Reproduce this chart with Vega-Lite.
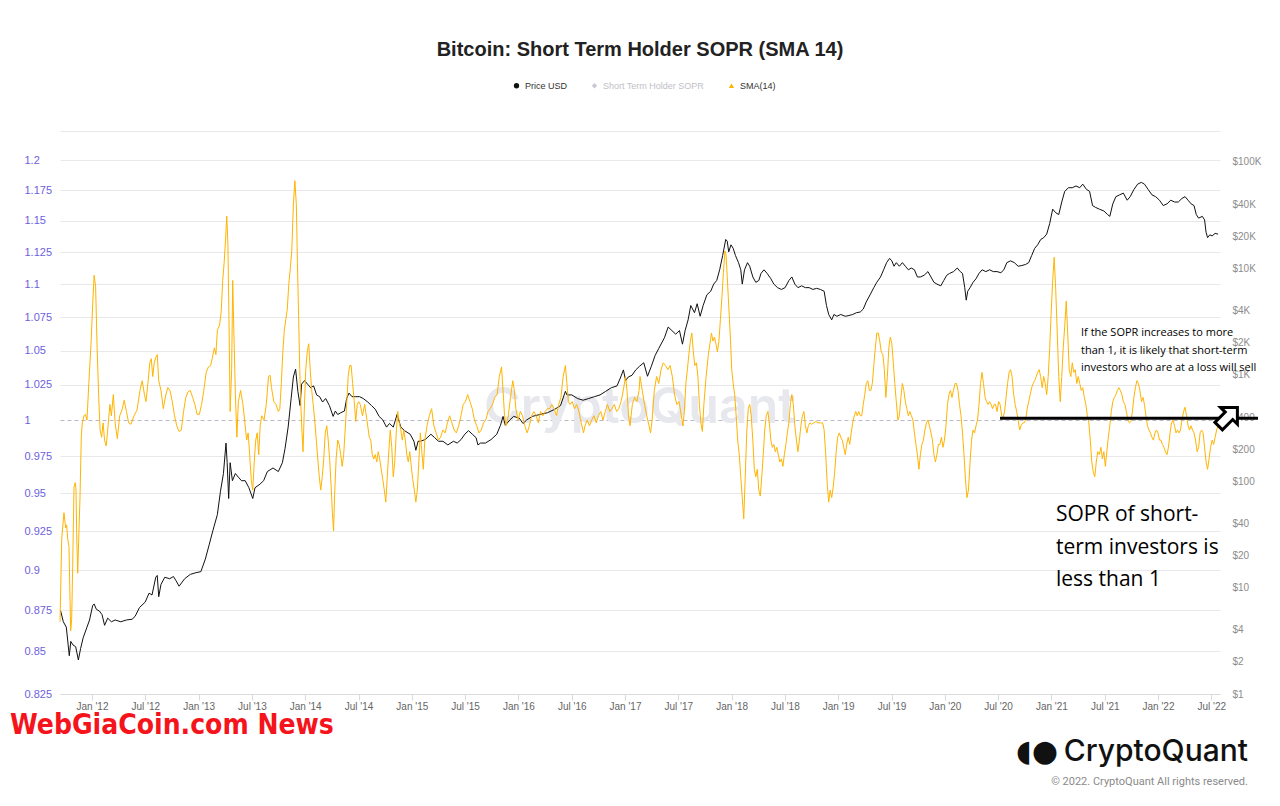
{
"$schema": "https://vega.github.io/schema/vega-lite/v6.json",
"width": 1160, "height": 563,
"autosize": "none",
"padding": {"left": 60, "top": 131, "right": 60, "bottom": 112},
"background": "white",
"config": {"view": {"stroke": null}, "font": "Liberation Sans", "axis": {"labelFont": "Liberation Sans"}},
"title": {"text": "Bitcoin: Short Term Holder SOPR (SMA 14)", "anchor": "middle", "frame": "group", "fontSize": 20, "font": "Liberation Sans", "fontWeight": "bold", "color": "#222222", "offset": 21},
"datasets": {
"sma": [
{"year":2011.700,"sopr":0.868},{"year":2011.716,"sopr":0.920},{"year":2011.737,"sopr":0.937},{"year":2011.753,"sopr":0.927},{"year":2011.762,"sopr":0.929},{"year":2011.772,"sopr":0.920},{"year":2011.784,"sopr":0.915},{"year":2011.794,"sopr":0.881},{"year":2011.800,"sopr":0.8625},{"year":2011.809,"sopr":0.869},{"year":2011.819,"sopr":0.903},{"year":2011.831,"sopr":0.954},{"year":2011.843,"sopr":0.957},{"year":2011.850,"sopr":0.952},{"year":2011.856,"sopr":0.924},{"year":2011.866,"sopr":0.898},{"year":2011.875,"sopr":0.919},{"year":2011.887,"sopr":0.946},{"year":2011.900,"sopr":0.989},{"year":2011.909,"sopr":0.998},{"year":2011.925,"sopr":1.003},{"year":2011.937,"sopr":1.004},{"year":2011.953,"sopr":1.000},{"year":2011.970,"sopr":1.026},{"year":2011.992,"sopr":1.057},{"year":2012.006,"sopr":1.084},{"year":2012.020,"sopr":1.107},{"year":2012.034,"sopr":1.098},{"year":2012.048,"sopr":1.052},{"year":2012.062,"sopr":1.018},{"year":2012.076,"sopr":0.993},{"year":2012.090,"sopr":0.988},{"year":2012.104,"sopr":0.998},{"year":2012.118,"sopr":0.986},{"year":2012.133,"sopr":0.982},{"year":2012.147,"sopr":0.993},{"year":2012.168,"sopr":1.011},{"year":2012.182,"sopr":1.003},{"year":2012.200,"sopr":1.018},{"year":2012.217,"sopr":0.998},{"year":2012.238,"sopr":0.987},{"year":2012.260,"sopr":1.003},{"year":2012.281,"sopr":1.007},{"year":2012.302,"sopr":1.014},{"year":2012.323,"sopr":1.006},{"year":2012.344,"sopr":0.998},{"year":2012.365,"sopr":0.997},{"year":2012.394,"sopr":1.003},{"year":2012.422,"sopr":1.007},{"year":2012.450,"sopr":1.021},{"year":2012.471,"sopr":1.028},{"year":2012.492,"sopr":1.018},{"year":2012.506,"sopr":1.013},{"year":2012.527,"sopr":1.028},{"year":2012.542,"sopr":1.041},{"year":2012.556,"sopr":1.044},{"year":2012.570,"sopr":1.031},{"year":2012.584,"sopr":1.041},{"year":2012.598,"sopr":1.045},{"year":2012.612,"sopr":1.047},{"year":2012.626,"sopr":1.028},{"year":2012.647,"sopr":1.021},{"year":2012.669,"sopr":1.008},{"year":2012.690,"sopr":1.017},{"year":2012.711,"sopr":1.023},{"year":2012.732,"sopr":1.021},{"year":2012.753,"sopr":1.013},{"year":2012.774,"sopr":1.003},{"year":2012.795,"sopr":0.996},{"year":2012.817,"sopr":0.992},{"year":2012.838,"sopr":0.993},{"year":2012.859,"sopr":1.006},{"year":2012.880,"sopr":1.016},{"year":2012.901,"sopr":1.020},{"year":2012.922,"sopr":1.021},{"year":2012.944,"sopr":1.016},{"year":2012.965,"sopr":1.011},{"year":2012.986,"sopr":1.004},{"year":2013.007,"sopr":1.004},{"year":2013.028,"sopr":1.011},{"year":2013.049,"sopr":1.021},{"year":2013.071,"sopr":1.034},{"year":2013.092,"sopr":1.038},{"year":2013.113,"sopr":1.039},{"year":2013.127,"sopr":1.044},{"year":2013.148,"sopr":1.052},{"year":2013.162,"sopr":1.047},{"year":2013.176,"sopr":1.065},{"year":2013.197,"sopr":1.069},{"year":2013.212,"sopr":1.079},{"year":2013.226,"sopr":1.103},{"year":2013.240,"sopr":1.117},{"year":2013.254,"sopr":1.137},{"year":2013.264,"sopr":1.154},{"year":2013.275,"sopr":1.131},{"year":2013.285,"sopr":1.073},{"year":2013.296,"sopr":1.006},{"year":2013.310,"sopr":1.036},{"year":2013.320,"sopr":1.103},{"year":2013.331,"sopr":1.063},{"year":2013.345,"sopr":1.018},{"year":2013.359,"sopr":0.988},{"year":2013.373,"sopr":1.013},{"year":2013.394,"sopr":1.021},{"year":2013.416,"sopr":1.011},{"year":2013.437,"sopr":0.996},{"year":2013.451,"sopr":0.986},{"year":2013.465,"sopr":0.991},{"year":2013.479,"sopr":0.976},{"year":2013.494,"sopr":0.959},{"year":2013.508,"sopr":0.952},{"year":2013.522,"sopr":0.971},{"year":2013.536,"sopr":0.986},{"year":2013.550,"sopr":0.991},{"year":2013.564,"sopr":0.976},{"year":2013.578,"sopr":0.996},{"year":2013.592,"sopr":1.003},{"year":2013.614,"sopr":1.000},{"year":2013.635,"sopr":1.011},{"year":2013.656,"sopr":1.031},{"year":2013.670,"sopr":1.032},{"year":2013.684,"sopr":1.023},{"year":2013.705,"sopr":1.013},{"year":2013.726,"sopr":1.011},{"year":2013.748,"sopr":1.006},{"year":2013.762,"sopr":1.008},{"year":2013.776,"sopr":1.026},{"year":2013.790,"sopr":1.049},{"year":2013.804,"sopr":1.065},{"year":2013.818,"sopr":1.073},{"year":2013.832,"sopr":1.081},{"year":2013.846,"sopr":1.100},{"year":2013.860,"sopr":1.112},{"year":2013.874,"sopr":1.126},{"year":2013.889,"sopr":1.163},{"year":2013.903,"sopr":1.183},{"year":2013.917,"sopr":1.163},{"year":2013.927,"sopr":1.117},{"year":2013.938,"sopr":1.076},{"year":2013.949,"sopr":1.036},{"year":2013.959,"sopr":1.011},{"year":2013.970,"sopr":0.991},{"year":2013.980,"sopr":0.978},{"year":2013.991,"sopr":1.006},{"year":2014.005,"sopr":1.036},{"year":2014.019,"sopr":1.049},{"year":2014.033,"sopr":1.055},{"year":2014.047,"sopr":1.036},{"year":2014.061,"sopr":1.021},{"year":2014.075,"sopr":1.011},{"year":2014.089,"sopr":1.000},{"year":2014.104,"sopr":0.986},{"year":2014.118,"sopr":0.973},{"year":2014.132,"sopr":0.961},{"year":2014.146,"sopr":0.952},{"year":2014.160,"sopr":0.961},{"year":2014.174,"sopr":0.973},{"year":2014.188,"sopr":0.991},{"year":2014.202,"sopr":0.996},{"year":2014.216,"sopr":0.986},{"year":2014.231,"sopr":0.971},{"year":2014.245,"sopr":0.952},{"year":2014.255,"sopr":0.937},{"year":2014.266,"sopr":0.925},{"year":2014.276,"sopr":0.949},{"year":2014.290,"sopr":0.973},{"year":2014.305,"sopr":0.986},{"year":2014.319,"sopr":0.983},{"year":2014.333,"sopr":0.976},{"year":2014.347,"sopr":0.968},{"year":2014.361,"sopr":0.976},{"year":2014.375,"sopr":0.993},{"year":2014.389,"sopr":1.011},{"year":2014.403,"sopr":1.031},{"year":2014.417,"sopr":1.039},{"year":2014.431,"sopr":1.039},{"year":2014.445,"sopr":1.026},{"year":2014.460,"sopr":1.013},{"year":2014.474,"sopr":0.999},{"year":2014.488,"sopr":1.011},{"year":2014.502,"sopr":1.013},{"year":2014.516,"sopr":1.011},{"year":2014.537,"sopr":1.003},{"year":2014.558,"sopr":1.011},{"year":2014.579,"sopr":1.000},{"year":2014.601,"sopr":0.988},{"year":2014.615,"sopr":0.986},{"year":2014.629,"sopr":0.976},{"year":2014.643,"sopr":0.973},{"year":2014.657,"sopr":0.976},{"year":2014.671,"sopr":0.971},{"year":2014.685,"sopr":0.978},{"year":2014.699,"sopr":0.973},{"year":2014.713,"sopr":0.966},{"year":2014.728,"sopr":0.959},{"year":2014.742,"sopr":0.952},{"year":2014.756,"sopr":0.944},{"year":2014.770,"sopr":0.961},{"year":2014.784,"sopr":0.978},{"year":2014.798,"sopr":0.993},{"year":2014.812,"sopr":0.981},{"year":2014.826,"sopr":0.961},{"year":2014.840,"sopr":0.971},{"year":2014.854,"sopr":0.991},{"year":2014.868,"sopr":1.006},{"year":2014.883,"sopr":0.998},{"year":2014.897,"sopr":0.993},{"year":2014.911,"sopr":0.986},{"year":2014.925,"sopr":0.993},{"year":2014.939,"sopr":0.986},{"year":2014.953,"sopr":0.976},{"year":2014.967,"sopr":0.971},{"year":2014.981,"sopr":0.978},{"year":2014.995,"sopr":0.968},{"year":2015.009,"sopr":0.959},{"year":2015.024,"sopr":0.952},{"year":2015.038,"sopr":0.944},{"year":2015.052,"sopr":0.952},{"year":2015.066,"sopr":0.971},{"year":2015.080,"sopr":0.991},{"year":2015.094,"sopr":0.978},{"year":2015.108,"sopr":0.966},{"year":2015.122,"sopr":0.986},{"year":2015.143,"sopr":0.996},{"year":2015.164,"sopr":1.003},{"year":2015.186,"sopr":1.008},{"year":2015.207,"sopr":0.996},{"year":2015.228,"sopr":0.991},{"year":2015.249,"sopr":0.986},{"year":2015.270,"sopr":0.988},{"year":2015.291,"sopr":0.993},{"year":2015.313,"sopr":0.991},{"year":2015.334,"sopr":0.998},{"year":2015.355,"sopr":1.003},{"year":2015.376,"sopr":0.998},{"year":2015.397,"sopr":0.993},{"year":2015.418,"sopr":0.991},{"year":2015.440,"sopr":0.996},{"year":2015.461,"sopr":1.003},{"year":2015.482,"sopr":1.011},{"year":2015.503,"sopr":1.013},{"year":2015.524,"sopr":1.018},{"year":2015.546,"sopr":1.013},{"year":2015.567,"sopr":1.008},{"year":2015.588,"sopr":1.000},{"year":2015.609,"sopr":0.996},{"year":2015.630,"sopr":0.991},{"year":2015.651,"sopr":0.993},{"year":2015.673,"sopr":0.998},{"year":2015.694,"sopr":1.000},{"year":2015.715,"sopr":1.006},{"year":2015.736,"sopr":1.008},{"year":2015.757,"sopr":1.011},{"year":2015.778,"sopr":1.016},{"year":2015.800,"sopr":1.018},{"year":2015.821,"sopr":1.031},{"year":2015.842,"sopr":1.038},{"year":2015.856,"sopr":1.021},{"year":2015.870,"sopr":1.003},{"year":2015.884,"sopr":0.996},{"year":2015.905,"sopr":1.003},{"year":2015.926,"sopr":1.016},{"year":2015.947,"sopr":1.028},{"year":2015.962,"sopr":1.021},{"year":2015.976,"sopr":1.008},{"year":2015.997,"sopr":1.000},{"year":2016.018,"sopr":1.006},{"year":2016.039,"sopr":1.003},{"year":2016.060,"sopr":0.996},{"year":2016.082,"sopr":0.991},{"year":2016.103,"sopr":0.996},{"year":2016.124,"sopr":1.003},{"year":2016.145,"sopr":1.006},{"year":2016.166,"sopr":1.003},{"year":2016.187,"sopr":0.998},{"year":2016.208,"sopr":1.006},{"year":2016.230,"sopr":1.003},{"year":2016.251,"sopr":1.006},{"year":2016.272,"sopr":1.008},{"year":2016.293,"sopr":1.008},{"year":2016.314,"sopr":1.011},{"year":2016.335,"sopr":1.008},{"year":2016.357,"sopr":1.003},{"year":2016.378,"sopr":1.011},{"year":2016.399,"sopr":1.016},{"year":2016.420,"sopr":1.031},{"year":2016.441,"sopr":1.039},{"year":2016.455,"sopr":1.026},{"year":2016.469,"sopr":1.013},{"year":2016.484,"sopr":1.011},{"year":2016.505,"sopr":1.013},{"year":2016.526,"sopr":1.008},{"year":2016.547,"sopr":1.011},{"year":2016.568,"sopr":1.006},{"year":2016.589,"sopr":0.998},{"year":2016.611,"sopr":0.991},{"year":2016.625,"sopr":0.996},{"year":2016.646,"sopr":1.000},{"year":2016.667,"sopr":0.996},{"year":2016.688,"sopr":1.000},{"year":2016.709,"sopr":1.003},{"year":2016.730,"sopr":0.998},{"year":2016.751,"sopr":1.003},{"year":2016.773,"sopr":1.006},{"year":2016.794,"sopr":1.000},{"year":2016.815,"sopr":1.006},{"year":2016.836,"sopr":1.011},{"year":2016.857,"sopr":1.006},{"year":2016.878,"sopr":1.008},{"year":2016.900,"sopr":1.011},{"year":2016.921,"sopr":1.006},{"year":2016.942,"sopr":1.008},{"year":2016.963,"sopr":1.013},{"year":2016.984,"sopr":1.021},{"year":2017.005,"sopr":1.031},{"year":2017.019,"sopr":1.021},{"year":2017.033,"sopr":1.003},{"year":2017.047,"sopr":0.996},{"year":2017.069,"sopr":1.011},{"year":2017.090,"sopr":1.016},{"year":2017.111,"sopr":1.013},{"year":2017.132,"sopr":1.021},
{"year":2017.141,"sopr":1.031},{"year":2017.162,"sopr":1.021},{"year":2017.183,"sopr":1.011},{"year":2017.204,"sopr":1.003},{"year":2017.225,"sopr":0.996},{"year":2017.240,"sopr":0.991},{"year":2017.254,"sopr":1.000},{"year":2017.275,"sopr":1.021},{"year":2017.296,"sopr":1.031},{"year":2017.317,"sopr":1.026},{"year":2017.338,"sopr":1.036},{"year":2017.359,"sopr":1.041},{"year":2017.380,"sopr":1.039},{"year":2017.402,"sopr":1.036},{"year":2017.423,"sopr":1.039},{"year":2017.444,"sopr":1.031},{"year":2017.465,"sopr":1.018},{"year":2017.486,"sopr":1.011},{"year":2017.507,"sopr":1.013},{"year":2017.529,"sopr":1.003},{"year":2017.543,"sopr":0.996},{"year":2017.557,"sopr":1.006},{"year":2017.571,"sopr":1.026},{"year":2017.585,"sopr":1.036},{"year":2017.599,"sopr":1.047},{"year":2017.613,"sopr":1.057},{"year":2017.627,"sopr":1.063},{"year":2017.641,"sopr":1.049},{"year":2017.655,"sopr":1.039},{"year":2017.670,"sopr":1.041},{"year":2017.684,"sopr":1.031},{"year":2017.698,"sopr":1.011},{"year":2017.712,"sopr":0.998},{"year":2017.726,"sopr":0.992},{"year":2017.740,"sopr":1.011},{"year":2017.761,"sopr":1.031},{"year":2017.782,"sopr":1.047},{"year":2017.797,"sopr":1.055},{"year":2017.811,"sopr":1.063},{"year":2017.825,"sopr":1.057},{"year":2017.839,"sopr":1.060},{"year":2017.853,"sopr":1.055},{"year":2017.867,"sopr":1.049},{"year":2017.881,"sopr":1.057},{"year":2017.895,"sopr":1.073},{"year":2017.909,"sopr":1.090},{"year":2017.923,"sopr":1.109},{"year":2017.938,"sopr":1.126},{"year":2017.948,"sopr":1.123},{"year":2017.959,"sopr":1.106},{"year":2017.969,"sopr":1.090},{"year":2017.980,"sopr":1.073},{"year":2017.990,"sopr":1.057},{"year":2018.001,"sopr":1.036},{"year":2018.015,"sopr":1.026},{"year":2018.029,"sopr":1.018},{"year":2018.043,"sopr":1.003},{"year":2018.057,"sopr":0.986},{"year":2018.072,"sopr":0.976},{"year":2018.086,"sopr":0.961},{"year":2018.100,"sopr":0.947},{"year":2018.114,"sopr":0.933},{"year":2018.128,"sopr":0.961},{"year":2018.142,"sopr":0.991},{"year":2018.156,"sopr":1.008},{"year":2018.170,"sopr":1.011},{"year":2018.184,"sopr":1.003},{"year":2018.199,"sopr":0.986},{"year":2018.213,"sopr":0.966},{"year":2018.227,"sopr":0.961},{"year":2018.241,"sopr":0.966},{"year":2018.255,"sopr":0.952},{"year":2018.269,"sopr":0.948},{"year":2018.283,"sopr":0.961},{"year":2018.297,"sopr":0.976},{"year":2018.311,"sopr":0.993},{"year":2018.325,"sopr":1.003},{"year":2018.340,"sopr":1.006},{"year":2018.354,"sopr":0.998},{"year":2018.368,"sopr":0.986},{"year":2018.382,"sopr":0.981},{"year":2018.396,"sopr":0.983},{"year":2018.410,"sopr":0.978},{"year":2018.424,"sopr":0.981},{"year":2018.438,"sopr":0.976},{"year":2018.452,"sopr":0.971},{"year":2018.467,"sopr":0.973},{"year":2018.481,"sopr":0.968},{"year":2018.495,"sopr":0.976},{"year":2018.509,"sopr":0.983},{"year":2018.523,"sopr":0.991},{"year":2018.537,"sopr":0.998},{"year":2018.551,"sopr":1.011},{"year":2018.565,"sopr":1.018},{"year":2018.579,"sopr":1.011},{"year":2018.593,"sopr":0.996},{"year":2018.608,"sopr":0.986},{"year":2018.622,"sopr":0.978},{"year":2018.636,"sopr":0.986},{"year":2018.650,"sopr":0.996},{"year":2018.664,"sopr":1.003},{"year":2018.678,"sopr":1.006},{"year":2018.692,"sopr":0.996},{"year":2018.706,"sopr":0.991},{"year":2018.720,"sopr":0.996},{"year":2018.735,"sopr":0.998},{"year":2018.749,"sopr":0.997},{"year":2018.770,"sopr":0.998},{"year":2018.791,"sopr":0.999},{"year":2018.812,"sopr":0.998},{"year":2018.833,"sopr":0.998},{"year":2018.854,"sopr":0.998},{"year":2018.868,"sopr":0.993},{"year":2018.883,"sopr":0.976},{"year":2018.897,"sopr":0.956},{"year":2018.911,"sopr":0.944},{"year":2018.925,"sopr":0.952},{"year":2018.939,"sopr":0.947},{"year":2018.953,"sopr":0.954},{"year":2018.967,"sopr":0.964},{"year":2018.981,"sopr":0.978},{"year":2018.995,"sopr":0.988},{"year":2019.010,"sopr":0.991},{"year":2019.024,"sopr":0.988},{"year":2019.038,"sopr":0.986},{"year":2019.052,"sopr":0.981},{"year":2019.066,"sopr":0.976},{"year":2019.080,"sopr":0.983},{"year":2019.094,"sopr":0.988},{"year":2019.108,"sopr":0.983},{"year":2019.122,"sopr":0.991},{"year":2019.136,"sopr":0.998},{"year":2019.151,"sopr":1.003},{"year":2019.165,"sopr":1.006},{"year":2019.179,"sopr":1.003},{"year":2019.193,"sopr":1.006},{"year":2019.207,"sopr":1.003},{"year":2019.221,"sopr":1.003},{"year":2019.235,"sopr":1.011},{"year":2019.249,"sopr":1.018},{"year":2019.263,"sopr":1.026},{"year":2019.278,"sopr":1.028},{"year":2019.292,"sopr":1.021},{"year":2019.306,"sopr":1.021},{"year":2019.320,"sopr":1.026},{"year":2019.334,"sopr":1.039},{"year":2019.348,"sopr":1.052},{"year":2019.362,"sopr":1.063},{"year":2019.376,"sopr":1.063},{"year":2019.390,"sopr":1.057},{"year":2019.404,"sopr":1.049},{"year":2019.419,"sopr":1.047},{"year":2019.433,"sopr":1.036},{"year":2019.447,"sopr":1.016},{"year":2019.461,"sopr":1.031},{"year":2019.475,"sopr":1.052},{"year":2019.489,"sopr":1.060},{"year":2019.503,"sopr":1.055},{"year":2019.517,"sopr":1.041},{"year":2019.531,"sopr":1.026},{"year":2019.545,"sopr":1.013},{"year":2019.560,"sopr":1.000},{"year":2019.574,"sopr":1.003},{"year":2019.588,"sopr":1.016},{"year":2019.602,"sopr":1.026},{"year":2019.616,"sopr":1.021},{"year":2019.630,"sopr":1.013},{"year":2019.644,"sopr":1.008},{"year":2019.658,"sopr":1.003},{"year":2019.672,"sopr":1.006},{"year":2019.687,"sopr":1.003},{"year":2019.701,"sopr":1.000},{"year":2019.715,"sopr":0.991},{"year":2019.729,"sopr":0.983},{"year":2019.743,"sopr":0.976},{"year":2019.757,"sopr":0.966},{"year":2019.771,"sopr":0.976},{"year":2019.785,"sopr":0.983},{"year":2019.799,"sopr":0.986},{"year":2019.813,"sopr":0.993},{"year":2019.828,"sopr":0.998},{"year":2019.842,"sopr":1.000},{"year":2019.856,"sopr":0.996},{"year":2019.870,"sopr":0.991},{"year":2019.884,"sopr":0.986},{"year":2019.898,"sopr":0.976},{"year":2019.912,"sopr":0.971},{"year":2019.926,"sopr":0.976},{"year":2019.940,"sopr":0.983},{"year":2019.954,"sopr":0.983},{"year":2019.969,"sopr":0.988},{"year":2019.983,"sopr":0.981},{"year":2019.997,"sopr":0.986},{"year":2020.011,"sopr":0.996},{"year":2020.025,"sopr":1.011},{"year":2020.039,"sopr":1.018},{"year":2020.053,"sopr":1.021},{"year":2020.067,"sopr":1.016},{"year":2020.081,"sopr":1.021},{"year":2020.096,"sopr":1.026},{"year":2020.110,"sopr":1.026},{"year":2020.124,"sopr":1.021},{"year":2020.138,"sopr":1.011},{"year":2020.152,"sopr":1.003},{"year":2020.166,"sopr":0.991},{"year":2020.180,"sopr":0.976},{"year":2020.194,"sopr":0.959},{"year":2020.208,"sopr":0.947},{"year":2020.222,"sopr":0.952},{"year":2020.237,"sopr":0.971},{"year":2020.251,"sopr":0.986},{"year":2020.265,"sopr":0.993},{"year":2020.279,"sopr":0.991},{"year":2020.293,"sopr":0.996},{"year":2020.307,"sopr":1.000},{"year":2020.321,"sopr":1.011},{"year":2020.335,"sopr":1.026},{"year":2020.349,"sopr":1.034},{"year":2020.363,"sopr":1.026},{"year":2020.378,"sopr":1.016},{"year":2020.392,"sopr":1.013},{"year":2020.406,"sopr":1.011},{"year":2020.420,"sopr":1.013},{"year":2020.434,"sopr":1.011},{"year":2020.448,"sopr":1.008},{"year":2020.462,"sopr":1.011},{"year":2020.476,"sopr":1.011},{"year":2020.490,"sopr":1.006},{"year":2020.505,"sopr":1.013},{"year":2020.519,"sopr":1.011},{"year":2020.533,"sopr":1.003},{"year":2020.547,"sopr":1.002},{"year":2020.561,"sopr":1.006},{"year":2020.575,"sopr":1.016},{"year":2020.589,"sopr":1.026},{"year":2020.603,"sopr":1.034},{"year":2020.617,"sopr":1.036},{"year":2020.631,"sopr":1.031},{"year":2020.646,"sopr":1.018},{"year":2020.660,"sopr":1.011},{"year":2020.674,"sopr":1.006},{"year":2020.688,"sopr":1.000},{"year":2020.702,"sopr":0.993},{"year":2020.716,"sopr":0.996},{"year":2020.730,"sopr":0.998},{"year":2020.744,"sopr":0.998},{"year":2020.758,"sopr":1.000},{"year":2020.773,"sopr":1.008},{"year":2020.787,"sopr":1.013},{"year":2020.801,"sopr":1.018},{"year":2020.815,"sopr":1.023},{"year":2020.829,"sopr":1.026},{"year":2020.843,"sopr":1.028},{"year":2020.857,"sopr":1.031},{"year":2020.871,"sopr":1.034},{"year":2020.885,"sopr":1.036},{"year":2020.899,"sopr":1.031},{"year":2020.914,"sopr":1.023},{"year":2020.928,"sopr":1.031},{"year":2020.942,"sopr":1.026},{"year":2020.956,"sopr":1.018},{"year":2020.970,"sopr":1.031},{"year":2020.984,"sopr":1.052},{"year":2020.998,"sopr":1.079},{"year":2021.012,"sopr":1.103},{"year":2021.026,"sopr":1.121},{"year":2021.041,"sopr":1.095},{"year":2021.055,"sopr":1.063},{"year":2021.069,"sopr":1.031},{"year":2021.083,"sopr":1.013},{"year":2021.097,"sopr":1.031},{"year":2021.111,"sopr":1.052},{"year":2021.125,"sopr":1.068},{"year":2021.139,"sopr":1.087},{"year":2021.153,"sopr":1.063},{"year":2021.167,"sopr":1.036},{"year":2021.182,"sopr":1.031},{"year":2021.196,"sopr":1.041},{"year":2021.210,"sopr":1.034},{"year":2021.224,"sopr":1.036},{"year":2021.238,"sopr":1.026},{"year":2021.252,"sopr":1.031},{"year":2021.266,"sopr":1.026},{"year":2021.280,"sopr":1.021},{"year":2021.294,"sopr":1.023},{"year":2021.309,"sopr":1.016},{"year":2021.323,"sopr":1.011},{"year":2021.337,"sopr":1.003},{"year":2021.351,"sopr":0.998},{"year":2021.365,"sopr":0.986},{"year":2021.379,"sopr":0.971},{"year":2021.393,"sopr":0.964},{"year":2021.407,"sopr":0.961},{"year":2021.421,"sopr":0.971},{"year":2021.435,"sopr":0.978},{"year":2021.450,"sopr":0.976},{"year":2021.464,"sopr":0.981},{"year":2021.478,"sopr":0.973},{"year":2021.492,"sopr":0.978},{"year":2021.506,"sopr":0.968},{"year":2021.520,"sopr":0.978},{"year":2021.534,"sopr":0.988},{"year":2021.548,"sopr":0.996},{"year":2021.562,"sopr":1.006},{"year":2021.576,"sopr":1.013},{"year":2021.591,"sopr":1.016},{"year":2021.605,"sopr":1.018},{"year":2021.619,"sopr":1.021},{"year":2021.633,"sopr":1.023},{"year":2021.647,"sopr":1.021},{"year":2021.661,"sopr":1.018},{"year":2021.675,"sopr":1.013},{"year":2021.689,"sopr":1.011},{"year":2021.703,"sopr":1.006},{"year":2021.718,"sopr":1.000},{"year":2021.732,"sopr":0.998},{"year":2021.746,"sopr":0.999},{"year":2021.760,"sopr":1.006},{"year":2021.774,"sopr":1.016},{"year":2021.788,"sopr":1.023},{"year":2021.802,"sopr":1.028},{"year":2021.816,"sopr":1.026},{"year":2021.830,"sopr":1.021},{"year":2021.845,"sopr":1.013},{"year":2021.859,"sopr":1.016},{"year":2021.873,"sopr":1.011},{"year":2021.887,"sopr":1.003},{"year":2021.901,"sopr":0.996},{"year":2021.915,"sopr":0.993},{"year":2021.929,"sopr":0.991},{"year":2021.943,"sopr":0.988},{"year":2021.957,"sopr":0.986},{"year":2021.972,"sopr":0.991},{"year":2021.986,"sopr":0.993},{"year":2022.000,"sopr":0.991},{"year":2022.014,"sopr":0.986},{"year":2022.028,"sopr":0.986},{"year":2022.042,"sopr":0.983},{"year":2022.056,"sopr":0.981},{"year":2022.070,"sopr":0.978},{"year":2022.084,"sopr":0.976},{"year":2022.098,"sopr":0.981},{"year":2022.113,"sopr":0.991},{"year":2022.127,"sopr":0.998},{"year":2022.141,"sopr":1.000},{"year":2022.155,"sopr":0.996},{"year":2022.169,"sopr":0.991},{"year":2022.183,"sopr":0.993},{"year":2022.197,"sopr":0.991},{"year":2022.211,"sopr":0.993},{"year":2022.225,"sopr":1.000},{"year":2022.240,"sopr":1.006},{"year":2022.254,"sopr":1.009},{"year":2022.268,"sopr":1.003},{"year":2022.282,"sopr":0.996},{"year":2022.296,"sopr":0.993},{"year":2022.310,"sopr":0.996},{"year":2022.324,"sopr":0.993},{"year":2022.338,"sopr":0.991},{"year":2022.352,"sopr":0.986},{"year":2022.367,"sopr":0.978},{"year":2022.381,"sopr":0.981},{"year":2022.395,"sopr":0.991},{"year":2022.409,"sopr":0.993},{"year":2022.423,"sopr":0.991},{"year":2022.437,"sopr":0.981},{"year":2022.451,"sopr":0.971},{"year":2022.465,"sopr":0.966},{"year":2022.479,"sopr":0.973},{"year":2022.493,"sopr":0.981},{"year":2022.508,"sopr":0.986},{"year":2022.522,"sopr":0.983},{"year":2022.536,"sopr":0.988},{"year":2022.550,"sopr":0.993},{"year":2022.564,"sopr":0.996}
],
"price": [
{"year":2011.700,"price":6.1},{"year":2011.706,"price":6.02},{"year":2011.731,"price":4.77},{"year":2011.759,"price":4.25},{"year":2011.787,"price":2.29},{"year":2011.801,"price":3.12},{"year":2011.822,"price":2.89},{"year":2011.847,"price":2.78},{"year":2011.872,"price":2.09},{"year":2011.893,"price":2.67},{"year":2011.917,"price":3.37},{"year":2011.953,"price":4.25},{"year":2011.977,"price":4.96},{"year":2012.006,"price":6.76},{"year":2012.020,"price":7.02},{"year":2012.041,"price":6.25},{"year":2012.069,"price":6.02},{"year":2012.094,"price":5.57},{"year":2012.118,"price":4.42},{"year":2012.147,"price":5.16},{"year":2012.182,"price":4.77},{"year":2012.217,"price":4.96},{"year":2012.270,"price":4.77},{"year":2012.323,"price":4.96},{"year":2012.376,"price":5.04},{"year":2012.404,"price":5.36},{"year":2012.446,"price":6.5},{"year":2012.499,"price":7.3},{"year":2012.535,"price":8.86},{"year":2012.563,"price":8.52},{"year":2012.598,"price":12.5},{"year":2012.612,"price":13.0},{"year":2012.626,"price":8.2},{"year":2012.647,"price":10.7},{"year":2012.683,"price":12.5},{"year":2012.729,"price":12.1},{"year":2012.764,"price":12.7},{"year":2012.788,"price":11.6},{"year":2012.817,"price":10.3},{"year":2012.869,"price":12.1},{"year":2012.922,"price":13.3},{"year":2012.975,"price":13.8},{"year":2013.021,"price":14.1},{"year":2013.063,"price":18.5},{"year":2013.099,"price":25.2},{"year":2013.134,"price":34.3},{"year":2013.176,"price":48.5},{"year":2013.205,"price":80.2},{"year":2013.233,"price":118},{"year":2013.257,"price":228},{"year":2013.268,"price":149},{"year":2013.282,"price":68.7},{"year":2013.296,"price":149},{"year":2013.317,"price":101},{"year":2013.345,"price":118},{"year":2013.373,"price":109},{"year":2013.402,"price":101},{"year":2013.437,"price":101},{"year":2013.472,"price":86.7},{"year":2013.508,"price":68.7},{"year":2013.529,"price":86.7},{"year":2013.575,"price":93.6},{"year":2013.610,"price":101},{"year":2013.645,"price":123},{"year":2013.698,"price":133},{"year":2013.748,"price":123},{"year":2013.786,"price":149},{"year":2013.811,"price":203},{"year":2013.840,"price":322},{"year":2013.868,"price":598},{"year":2013.889,"price":952},{"year":2013.910,"price":1129},{"year":2013.931,"price":698},{"year":2013.952,"price":513},{"year":2013.966,"price":815},{"year":2013.994,"price":881},{"year":2014.022,"price":815},{"year":2014.051,"price":755},{"year":2014.079,"price":785},{"year":2014.107,"price":646},{"year":2014.135,"price":622},{"year":2014.163,"price":554},{"year":2014.192,"price":598},{"year":2014.227,"price":513},{"year":2014.262,"price":406},{"year":2014.283,"price":456},{"year":2014.305,"price":423},{"year":2014.333,"price":439},{"year":2014.368,"price":456},{"year":2014.389,"price":598},{"year":2014.411,"price":672},{"year":2014.439,"price":622},{"year":2014.474,"price":622},{"year":2014.509,"price":622},{"year":2014.544,"price":598},{"year":2014.587,"price":554},{"year":2014.622,"price":513},{"year":2014.657,"price":474},{"year":2014.693,"price":406},{"year":2014.728,"price":376},{"year":2014.763,"price":322},{"year":2014.791,"price":348},{"year":2014.826,"price":322},{"year":2014.862,"price":423},{"year":2014.897,"price":322},{"year":2014.932,"price":298},{"year":2014.985,"price":276},{"year":2015.020,"price":237},{"year":2015.038,"price":195},{"year":2015.059,"price":237},{"year":2015.080,"price":237},{"year":2015.126,"price":246},{"year":2015.179,"price":276},{"year":2015.215,"price":256},{"year":2015.250,"price":237},{"year":2015.292,"price":237},{"year":2015.338,"price":219},{"year":2015.391,"price":237},{"year":2015.426,"price":228},{"year":2015.462,"price":246},{"year":2015.497,"price":276},{"year":2015.532,"price":298},{"year":2015.568,"price":276},{"year":2015.603,"price":256},{"year":2015.620,"price":219},{"year":2015.645,"price":228},{"year":2015.691,"price":228},{"year":2015.744,"price":246},{"year":2015.797,"price":276},{"year":2015.832,"price":335},{"year":2015.856,"price":406},{"year":2015.877,"price":335},{"year":2015.920,"price":376},{"year":2015.955,"price":406},{"year":2016.008,"price":391},{"year":2016.043,"price":348},{"year":2016.078,"price":376},{"year":2016.131,"price":406},{"year":2016.201,"price":423},{"year":2016.272,"price":439},{"year":2016.342,"price":474},{"year":2016.395,"price":513},{"year":2016.441,"price":698},{"year":2016.455,"price":646},{"year":2016.501,"price":646},{"year":2016.554,"price":598},{"year":2016.607,"price":576},{"year":2016.660,"price":598},{"year":2016.713,"price":622},{"year":2016.766,"price":646},{"year":2016.819,"price":698},{"year":2016.872,"price":755},{"year":2016.925,"price":785},{"year":2016.960,"price":952},{"year":2016.985,"price":1110},{"year":2017.006,"price":881},{"year":2017.031,"price":952},{"year":2017.066,"price":989},{"year":2017.101,"price":1110},{"year":2017.136,"price":1200},
{"year":2017.176,"price":1296},{"year":2017.211,"price":967},{"year":2017.247,"price":1200},{"year":2017.282,"price":1513},{"year":2017.317,"price":1767},{"year":2017.370,"price":2226},{"year":2017.405,"price":2807},{"year":2017.440,"price":2598},{"year":2017.476,"price":2405},{"year":2017.511,"price":2598},{"year":2017.539,"price":1936},{"year":2017.564,"price":2598},{"year":2017.592,"price":3277},{"year":2017.617,"price":4468},{"year":2017.652,"price":3828},{"year":2017.677,"price":4646},{"year":2017.705,"price":3541},{"year":2017.733,"price":4468},{"year":2017.768,"price":5634},{"year":2017.804,"price":6086},{"year":2017.832,"price":7103},{"year":2017.860,"price":7672},{"year":2017.888,"price":9680},{"year":2017.916,"price":13190},{"year":2017.945,"price":18660},{"year":2017.959,"price":17960},{"year":2017.973,"price":14250},{"year":2017.994,"price":16620},{"year":2018.015,"price":15390},{"year":2018.036,"price":13190},{"year":2018.065,"price":11300},{"year":2018.086,"price":9680},{"year":2018.100,"price":7103},{"year":2018.121,"price":9680},{"year":2018.149,"price":11300},{"year":2018.170,"price":10450},{"year":2018.199,"price":8290},{"year":2018.227,"price":7385},{"year":2018.255,"price":7672},{"year":2018.276,"price":8960},{"year":2018.304,"price":9680},{"year":2018.333,"price":8960},{"year":2018.368,"price":7980},{"year":2018.396,"price":7103},{"year":2018.431,"price":6580},{"year":2018.467,"price":6330},{"year":2018.502,"price":6580},{"year":2018.537,"price":7672},{"year":2018.565,"price":8290},{"year":2018.593,"price":7103},{"year":2018.622,"price":6580},{"year":2018.657,"price":6840},{"year":2018.692,"price":6580},{"year":2018.727,"price":6580},{"year":2018.763,"price":6330},{"year":2018.798,"price":6480},{"year":2018.833,"price":6330},{"year":2018.868,"price":6086},{"year":2018.890,"price":4468},{"year":2018.911,"price":3682},{"year":2018.939,"price":3277},{"year":2018.960,"price":3682},{"year":2018.988,"price":3541},{"year":2019.024,"price":3682},{"year":2019.066,"price":3541},{"year":2019.101,"price":3600},{"year":2019.136,"price":3682},{"year":2019.172,"price":3828},{"year":2019.207,"price":3885},{"year":2019.235,"price":4136},{"year":2019.263,"price":4830},{"year":2019.299,"price":5634},{"year":2019.334,"price":6580},{"year":2019.362,"price":7385},{"year":2019.397,"price":8290},{"year":2019.426,"price":9680},{"year":2019.454,"price":11300},{"year":2019.482,"price":12400},{"year":2019.503,"price":11750},{"year":2019.524,"price":10450},{"year":2019.545,"price":11300},{"year":2019.574,"price":10450},{"year":2019.602,"price":11300},{"year":2019.630,"price":10450},{"year":2019.658,"price":9680},{"year":2019.686,"price":10060},{"year":2019.715,"price":9680},{"year":2019.743,"price":8290},{"year":2019.771,"price":8290},{"year":2019.806,"price":8600},{"year":2019.842,"price":9310},{"year":2019.870,"price":8290},{"year":2019.898,"price":7385},{"year":2019.926,"price":7103},{"year":2019.962,"price":6840},{"year":2019.990,"price":7672},{"year":2020.018,"price":8600},{"year":2020.046,"price":8960},{"year":2020.082,"price":9310},{"year":2020.117,"price":10060},{"year":2020.145,"price":9310},{"year":2020.166,"price":8960},{"year":2020.187,"price":6580},{"year":2020.201,"price":5020},{"year":2020.215,"price":6086},{"year":2020.237,"price":6580},{"year":2020.265,"price":7385},{"year":2020.293,"price":7980},{"year":2020.321,"price":8960},{"year":2020.350,"price":9680},{"year":2020.385,"price":9310},{"year":2020.420,"price":9680},{"year":2020.455,"price":9310},{"year":2020.490,"price":9310},{"year":2020.526,"price":9090},{"year":2020.554,"price":9680},{"year":2020.582,"price":11300},{"year":2020.617,"price":11750},{"year":2020.653,"price":11300},{"year":2020.688,"price":10450},{"year":2020.723,"price":10620},{"year":2020.758,"price":10870},{"year":2020.787,"price":11300},{"year":2020.815,"price":13190},{"year":2020.843,"price":15390},{"year":2020.871,"price":16620},{"year":2020.900,"price":18660},{"year":2020.928,"price":19400},{"year":2020.956,"price":20950},{"year":2020.984,"price":26370},{"year":2021.012,"price":35930},{"year":2021.041,"price":33250},{"year":2021.069,"price":31980},{"year":2021.097,"price":41950},{"year":2021.125,"price":52900},{"year":2021.160,"price":57160},{"year":2021.196,"price":57160},{"year":2021.231,"price":59400},{"year":2021.266,"price":57160},{"year":2021.294,"price":61760},{"year":2021.330,"price":55000},{"year":2021.358,"price":52900},{"year":2021.386,"price":38840},{"year":2021.414,"price":37350},{"year":2021.450,"price":35930},{"year":2021.492,"price":34570},{"year":2021.527,"price":31980},{"year":2021.548,"price":30780},{"year":2021.576,"price":40340},{"year":2021.605,"price":47110},{"year":2021.640,"price":48980},{"year":2021.675,"price":50880},{"year":2021.711,"price":43620},{"year":2021.739,"price":47110},{"year":2021.774,"price":55000},{"year":2021.809,"price":61760},{"year":2021.844,"price":64200},{"year":2021.873,"price":61760},{"year":2021.908,"price":55000},{"year":2021.943,"price":48980},{"year":2021.978,"price":47110},{"year":2022.014,"price":43620},{"year":2022.049,"price":38840},{"year":2022.085,"price":40340},{"year":2022.120,"price":43620},{"year":2022.155,"price":41950},{"year":2022.190,"price":41950},{"year":2022.225,"price":45360},{"year":2022.254,"price":47110},{"year":2022.282,"price":43620},{"year":2022.310,"price":40340},{"year":2022.338,"price":38840},{"year":2022.359,"price":31980},{"year":2022.381,"price":29600},{"year":2022.416,"price":30780},{"year":2022.437,"price":28480},{"year":2022.451,"price":21780},{"year":2022.465,"price":19400},{"year":2022.486,"price":20630},{"year":2022.508,"price":20160},{"year":2022.536,"price":21280},{"year":2022.564,"price":20950}
]
},
"layer": [
{
 "data": {"name": "price"},
 "layer": [
  {"data": {"values": [{}]},
   "mark": {"type": "text", "text": "CryptoQuant", "fontSize": 50, "font": "Inter", "fontWeight": 600, "color": "#e7e7ee", "align": "center", "baseline": "middle"},
   "encoding": {"x": {"datum": 2017.14}, "y": {"datum": 487}}},
  {"mark": {"type": "line", "strokeWidth": 1},
   "encoding": {
    "x": {"field": "year", "type": "quantitative", "scale": {"domain": [2011.6998, 2022.5816], "nice": false, "zero": false},
     "axis": {"title": null, "values": [2012,2012.5,2013,2013.5,2014,2014.5,2015,2015.5,2016,2016.5,2017,2017.5,2018,2018.5,2019,2019.5,2020,2020.5,2021,2021.5,2022,2022.5], "labelExpr": "(datum.value % 1 < 0.25 ? \"Jan '\" : \"Jul '\") + floor(datum.value % 100)", "grid": false, "domain": true, "domainColor": "#dadada", "ticks": true, "tickSize": 6, "tickColor": "#dadada", "labelColor": "#666666", "labelFontSize": 10, "labelPadding": 1, "labelFlush": false, "labelOverlap": false}},
    "y": {"field": "price", "type": "quantitative", "scale": {"type": "log", "domain": [1, 195000], "nice": false},
     "axis": {"orient": "right", "title": null, "values": [1,2,4,10,20,40,100,200,400,1000,2000,4000,10000,20000,40000,100000], "labelExpr": "datum.value >= 1000 ? '$' + (datum.value/1000) + 'K' : '$' + datum.value", "domain": false, "ticks": false, "tickSize": 0, "labelPadding": 12, "labelColor": "#8c8c8c", "labelFontSize": 10, "grid": false, "labelOverlap": false}},
    "color": {"datum": "Price USD", "type": "nominal",
     "scale": {"domain": ["Price USD", "Short Term Holder SOPR", "SMA(14)"], "range": ["#111111", "#c8c8d2", "#ffb400"]},
     "legend": {"orient": "none", "legendX": 452, "legendY": -50, "direction": "horizontal", "title": null, "labelFontSize": 9, "labelFont": "Liberation Sans", "labelColor": "#333333", "symbolSize": 28, "columnPadding": 22, "labelOffset": 4,
      "encode": {"symbols": {"update": {"shape": {"signal": "datum.value === 'Price USD' ? 'circle' : (datum.value === 'SMA(14)' ? 'triangle-up' : 'diamond')"}, "fill": {"signal": "datum.value === 'Price USD' ? '#111111' : (datum.value === 'SMA(14)' ? '#ffb400' : '#c8c8d2')"}, "fillOpacity": {"value": 1}, "strokeWidth": {"value": 0}, "opacity": {"value": 1}}},
                 "labels": {"update": {"fill": {"signal": "datum.value === 'Short Term Holder SOPR' ? '#c0c0c8' : '#333333'"}}}}}}
   }}
 ]
},
{
 "data": {"name": "sma"},
 "layer": [
  {"mark": {"type": "line", "strokeWidth": 1},
   "encoding": {
    "x": {"field": "year", "type": "quantitative", "scale": {"domain": [2011.6998, 2022.5816], "nice": false, "zero": false}},
    "y": {"field": "sopr", "type": "quantitative", "scale": {"type": "log", "domain": [0.825, 1.225], "nice": false},
     "axis": {"orient": "left", "title": null, "values": [0.825,0.85,0.875,0.9,0.925,0.95,0.975,1,1.025,1.05,1.075,1.1,1.125,1.15,1.175,1.2,1.225], "labelExpr": "datum.value > 1.21 ? '' : format(datum.value, '~g')", "domain": false, "ticks": false, "tickSize": 0, "labelAlign": "left", "labelPadding": 36, "labelColor": "#6c5fe0", "labelFontSize": 11, "grid": true, "gridColor": {"condition": {"test": "datum.value == 1", "value": "#b9b9c6"}, "value": "#e8e8ea"}, "gridDash": {"condition": {"test": "datum.value == 1", "value": [4, 3]}, "value": []}, "gridWidth": 1, "labelOverlap": false}},
    "color": {"datum": "SMA(14)", "type": "nominal", "scale": {"domain": ["Price USD", "Short Term Holder SOPR", "SMA(14)"], "range": ["#111111", "#c8c8d2", "#ffb400"]}}
   }},
  {"data": {"values": [{}]},
   "mark": {"type": "text", "text": ["If the SOPR increases to more", "than 1, it is likely that short-term", "investors who are at a loss will sell"], "font": "Open Sans", "fontSize": 11, "lineHeight": 17.5, "align": "left", "baseline": "top", "color": "#000000"},
   "encoding": {"x": {"datum": 2021.278}, "y": {"datum": 1.0673}}},
  {"data": {"values": [{}]},
   "mark": {"type": "text", "text": ["SOPR of short-", "term investors is", "less than 1"], "font": "Open Sans", "fontSize": 21, "lineHeight": 32.5, "align": "left", "baseline": "top", "color": "#000000"},
   "encoding": {"x": {"datum": 2021.043}, "y": {"datum": 0.9425}}},
  {"data": {"values": [{}]},
   "mark": {"type": "rule", "strokeWidth": 3, "color": "#000000"},
   "encoding": {"x": {"datum": 2020.518}, "x2": {"datum": 2022.938}, "y": {"datum": 1.0013}}},
  {"data": {"values": [{}]},
   "mark": {"type": "point", "shape": "M-0.4,1L0.4,1L0.4,-0.1L0.9,-0.1L0,-1L-0.9,-0.1L-0.4,-0.1Z", "angle": 45, "size": 700, "filled": true, "fill": "#ffffff", "fillOpacity": 1, "stroke": "#000000", "strokeWidth": 3, "opacity": 1},
   "encoding": {"x": {"datum": 2022.657}, "y": {"datum": 1.0023}}},
  {"data": {"values": [{}]},
   "mark": {"type": "text", "text": "WebGiaCoin.com News", "font": "DejaVu Sans Condensed", "fontWeight": "bold", "fontSize": 28, "align": "left", "baseline": "middle", "color": "#f5141c"},
   "encoding": {"x": {"datum": 2011.231}, "y": {"datum": 0.8066}}},
  {"data": {"values": [{}]},
   "mark": {"type": "text", "text": "◖●", "font": "DejaVu Sans", "fontSize": 30, "align": "center", "baseline": "middle", "color": "#111111"},
   "encoding": {"x": {"datum": 2020.865}, "y": {"datum": 0.7921}}},
  {"data": {"values": [{}]},
   "mark": {"type": "text", "text": "CryptoQuant", "font": "Inter", "fontWeight": 500, "fontSize": 30, "align": "right", "baseline": "middle", "color": "#111111"},
   "encoding": {"x": {"datum": 2022.844}, "y": {"datum": 0.7921}}},
  {"data": {"values": [{}]},
   "mark": {"type": "text", "text": "© 2022. CryptoQuant All rights reserved.", "font": "Roboto", "fontSize": 11, "align": "right", "baseline": "middle", "color": "#8a8a8a"},
   "encoding": {"x": {"datum": 2022.844}, "y": {"datum": 0.7756}}}
 ]
}
],
"resolve": {"scale": {"y": "independent"}}
}
